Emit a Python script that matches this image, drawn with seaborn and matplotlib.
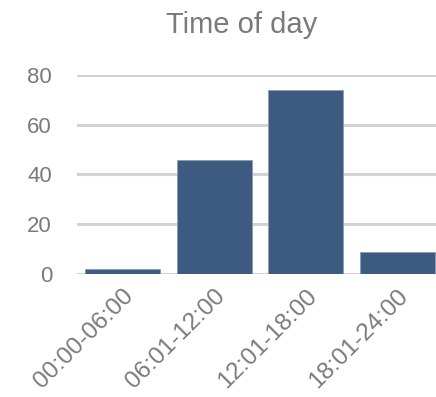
import matplotlib
matplotlib.use("Agg")
import matplotlib.pyplot as plt
import seaborn as sns
import pandas as pd

# Trips by time-of-day slot
slots = ["00:00-06:00", "06:01-12:00", "12:01-18:00", "18:01-24:00"]
counts = [2, 46, 74, 9]
y_ticks = [0, 20, 40, 60, 80]

df = pd.DataFrame({"slot": slots, "count": counts})

sns.set_theme(style="white")
plt.rcParams["font.family"] = ["Liberation Sans", "DejaVu Sans"]

text_grey = "#7a7a7a"
bar_blue = "#3d5a80"

fig = plt.figure(figsize=(4.36, 3.97), dpi=100)
# axes runs slightly past the right edge, so the last bar is cropped
ax = fig.add_axes([77 / 436, 1 - 274 / 397, 366 / 436, 199 / 397])

sns.barplot(data=df, x="slot", y="count", color=bar_blue, saturation=1,
            width=0.82, edgecolor="#8a9bb3", linewidth=0.6, ax=ax, zorder=3)

ax.set_ylim(0, 80)
ax.set_yticks(y_ticks)
ax.set_xlim(-0.5, 3.5)
ax.yaxis.grid(True, color="#d2d2d2", linewidth=2.2, zorder=0)
ax.set_axisbelow(True)
for side in ["top", "right", "left", "bottom"]:
    ax.spines[side].set_visible(False)
ax.axhline(0, color="#d2d2d2", linewidth=2.2, zorder=2)

ax.set_xlabel("")
ax.set_ylabel("")
ax.tick_params(axis="y", length=0, pad=18, labelsize=16, labelcolor=text_grey)
ax.tick_params(axis="x", length=0, pad=8, labelsize=17.5, labelcolor=text_grey)
for lbl in ax.get_xticklabels():
    lbl.set_rotation(45)
    lbl.set_ha("right")
    lbl.set_rotation_mode("anchor")

fig.text(242 / 436, 1 - 25 / 397, "Time of day", ha="center", va="center",
         fontsize=21, color=text_grey)

fig.savefig("out.png", dpi=100)
